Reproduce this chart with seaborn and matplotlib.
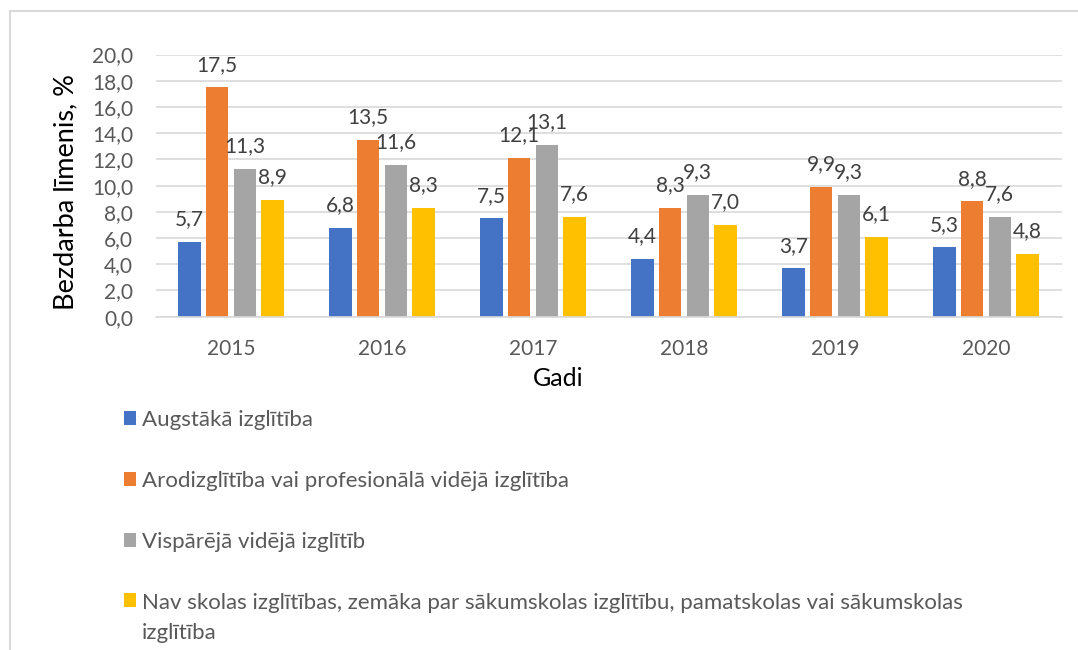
import numpy as np
import pandas as pd
import matplotlib
matplotlib.use('Agg')
import matplotlib.pyplot as plt
import seaborn as sns
from matplotlib.patches import Rectangle
from matplotlib.ticker import FuncFormatter

#%% Data
years = ['2015', '2016', '2017', '2018', '2019', '2020']
augstaka = [5.7, 6.8, 7.5, 4.4, 3.7, 5.3]
arodizglitiba = [17.5, 13.5, 12.1, 8.3, 9.9, 8.8]
visparejaa = [11.3, 11.6, 13.1, 9.3, 9.3, 7.6]
nav_skolas = [8.9, 8.3, 7.6, 7.0, 6.1, 4.8]
series_names = ['Augstākā izglītība',
                'Arodizglītība vai profesionālā vidējā izglītība',
                'Vispārējā vidējā izglītīb',
                'Nav skolas izglītības, zemāka par sākumskolas izglītību, pamatskolas vai sākumskolas izglītība']
legend_labels = ['Augstākā izglītība',
                 'Arodizglītība vai profesionālā vidējā izglītība',
                 'Vispārējā vidējā izglītīb',
                 'Nav skolas izglītības, zemāka par sākumskolas izglītību, pamatskolas vai sākumskolas\nizglītība']
colors = ['#4472C4', '#ED7D31', '#A5A5A5', '#FFC000']

all_series = [augstaka, arodizglitiba, visparejaa, nav_skolas]
df = pd.DataFrame({
    'Gadi': years * 4,
    'Vertiba': augstaka + arodizglitiba + visparejaa + nav_skolas,
    'Grupa': np.repeat(series_names, len(years)),
})

#%% Style
sns.set_theme(style='white')
plt.rcParams['font.family'] = ['Lato', 'DejaVu Sans']

W, H = 1078, 650
fig = plt.figure(figsize=(W / 100, H / 100), dpi=100)
ax = fig.add_axes([155.5 / W, 1 - 316.7 / H, 906 / W, 262.2 / H])

sns.barplot(data=df, x='Gadi', y='Vertiba', hue='Grupa', order=years,
            hue_order=series_names, palette=colors, width=0.733, gap=0.2,
            linewidth=0, saturation=1, errorbar=None, ax=ax)

# data labels with decimal comma
for cont, vals in zip(ax.containers, all_series):
    ax.bar_label(cont, labels=[f'{v:.1f}'.replace('.', ',') for v in vals],
                 padding=9, fontsize=15, color='#404040')

ax.set_ylim(0, 20)
ax.set_yticks(np.arange(0, 21, 2))
ax.yaxis.set_major_formatter(FuncFormatter(lambda v, p: f'{v:.1f}'.replace('.', ',')))
ax.yaxis.grid(True, color='#D9D9D9', lw=1.2)
ax.set_axisbelow(True)
for s in ['left', 'right', 'top']:
    ax.spines[s].set_visible(False)
ax.spines['bottom'].set_color('#D9D9D9')
ax.spines['bottom'].set_linewidth(1.2)
ax.tick_params(axis='both', length=0, labelsize=15, labelcolor='#595959')
ax.tick_params(axis='y', pad=16)
ax.tick_params(axis='x', pad=16)

ax.set_xlabel('Gadi', fontsize=18, color='black')
ax.xaxis.set_label_coords((558 - 155.5) / 906, -62 / 262.2)
ax.xaxis.label.set_va('center')
ax.set_ylabel('Bezdarba līmenis, %', fontsize=19.5, color='black')
ax.yaxis.set_label_coords((66 - 155.5) / 906, (316.7 - 192) / 262.2)
ax.yaxis.label.set_va('center')

#%% Legend
handles, _ = ax.get_legend_handles_labels()
leg = ax.legend(handles, legend_labels, loc='upper left',
                bbox_to_anchor=(124 / W, 1 - 410 / H), bbox_transform=fig.transFigure,
                frameon=False, fontsize=16, labelcolor='#595959', borderpad=0,
                borderaxespad=0, handlelength=0.55, handleheight=0.58,
                handletextpad=0.25, labelspacing=1.85)
leg.get_texts()[3].set_linespacing(1.6)
# put the marker of the two-line entry next to its first line
rows = leg._legend_handle_box.get_children()[0].get_children()
rows[3].align = 'top'

# chart border
fig.patches.append(Rectangle((10 / W, -0.1), 1.2, 1 - 11 / H + 0.1,
                             transform=fig.transFigure, fill=False,
                             ec='#D9D9D9', lw=1.5))

fig.savefig('out.png', dpi=100)
